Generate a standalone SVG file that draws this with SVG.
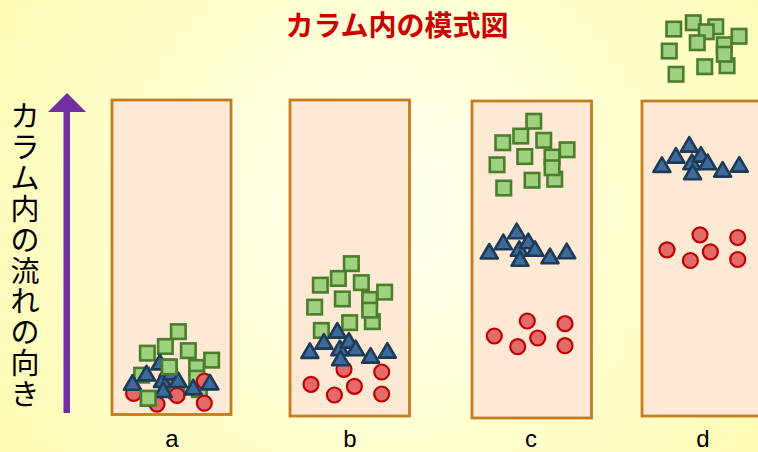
<svg xmlns="http://www.w3.org/2000/svg" xmlns:xlink="http://www.w3.org/1999/xlink" width="758" height="452" viewBox="0 0 758 452">
<style>
.col{fill:#fde9d4;stroke:#c47c22;stroke-width:2.8}
.sq{fill:#9fd27f;stroke:#4a7d2c;stroke-width:2.6}
.tr{fill:#3a6b9a;stroke:#1d3a56;stroke-width:2.6;stroke-linejoin:round}
.ci{fill:#e26a68;stroke:#c00000;stroke-width:2.2}
.lbl{font-family:"Liberation Sans",Arial,sans-serif;font-size:24px;fill:#000;text-anchor:middle}
.vt{font-family:"Noto Sans CJK JP","Noto Sans",sans-serif;font-size:29px;fill:#000;text-anchor:middle}
.title{font-family:"Noto Sans CJK JP","Noto Sans",sans-serif;font-size:28px;font-weight:bold;fill:#cc0000;text-anchor:middle}
</style>
<defs>
<radialGradient id="bg" cx="390" cy="210" r="430" gradientUnits="userSpaceOnUse">
<stop offset="0" stop-color="#fffff4"/>
<stop offset="0.55" stop-color="#ffffd0"/>
<stop offset="1" stop-color="#fffcb8"/>
</radialGradient>
<path id="t" d="M0,0 L8.5,14.5 L-8.5,14.5 Z"/>
<g id="sqC" class="sq">
<rect x="526.5" y="114" width="14.5" height="14.5"/>
<rect x="513.5" y="128.8" width="14.5" height="14.5"/>
<rect x="495.5" y="135.5" width="14.5" height="14.5"/>
<rect x="536.5" y="133" width="14.5" height="14.5"/>
<rect x="559.8" y="142.5" width="14.5" height="14.5"/>
<rect x="517.5" y="149.3" width="14.5" height="14.5"/>
<rect x="544.8" y="149.8" width="14.5" height="14.5"/>
<rect x="489.8" y="157.5" width="14.5" height="14.5"/>
<rect x="547.5" y="172" width="14.5" height="14.5"/>
<rect x="524.8" y="173" width="14.5" height="14.5"/>
<rect x="496.5" y="180.8" width="14.5" height="14.5"/>
<rect x="544.8" y="160.5" width="14.5" height="14.5"/>
</g>
<g id="trC" class="tr">
<use xlink:href="#t" transform="translate(516.7,223.7)"/>
<use xlink:href="#t" transform="translate(503.3,234.7)"/>
<use xlink:href="#t" transform="translate(489.3,244)"/>
<use xlink:href="#t" transform="translate(519.3,241.3)"/>
<use xlink:href="#t" transform="translate(528.3,233.7)"/>
<use xlink:href="#t" transform="translate(535,241.3)"/>
<use xlink:href="#t" transform="translate(520,251.3)"/>
<use xlink:href="#t" transform="translate(550,248.7)"/>
<use xlink:href="#t" transform="translate(566.7,243.7)"/>
</g>
<g id="ciC" class="ci">
<circle cx="527.3" cy="321" r="7.5"/>
<circle cx="565" cy="323.7" r="7.5"/>
<circle cx="494.3" cy="336" r="7.5"/>
<circle cx="537.7" cy="338" r="7.5"/>
<circle cx="517.7" cy="346.7" r="7.5"/>
<circle cx="565" cy="345.7" r="7.5"/>
</g>
</defs>
<rect x="0" y="0" width="758" height="452" fill="url(#bg)"/>
<g id="title"><text class="title" x="397" y="36">カラム内の模式図</text></g>
<g id="flow-label">
<text class="vt" x="25" y="127">カ</text>
<text class="vt" x="25" y="157.9">ラ</text>
<text class="vt" x="25" y="188.8">ム</text>
<text class="vt" x="25" y="219.7">内</text>
<text class="vt" x="25" y="250.6">の</text>
<text class="vt" x="25" y="281.5">流</text>
<text class="vt" x="25" y="312.4">れ</text>
<text class="vt" x="25" y="343.3">の</text>
<text class="vt" x="25" y="374.2">向</text>
<text class="vt" x="25" y="405.1">き</text>
</g>
<g id="connectors">
<rect x="63.5" y="110" width="6.5" height="303" fill="#7030a0"/>
<polygon points="67,93 86,112 48,112" fill="#7030a0"/>
</g>
<g id="column-a">
<rect class="col" x="112" y="100" width="119" height="314.5"/>
<use xlink:href="#sqC" transform="translate(-355.4,210.4)"/>
<use xlink:href="#ciC" transform="translate(-360.7,57.4)"/>
<use xlink:href="#trC" transform="translate(-356.8,131.2)"/>
<rect class="sq" x="162" y="359.7" width="14.5" height="14.5"/>
<rect class="sq" x="141" y="391" width="14.5" height="14.5"/>
<text class="lbl" x="172" y="447">a</text>
</g>
<g id="column-b">
<rect class="col" x="290" y="100" width="119.5" height="316"/>
<use xlink:href="#ciC" transform="translate(-183.3,48.3)"/>
<use xlink:href="#sqC" transform="translate(-182.4,142.4)"/>
<use xlink:href="#trC" transform="translate(-179.4,99.4)"/>
<text class="lbl" x="350" y="447">b</text>
</g>
<g id="column-c">
<rect class="col" x="472" y="101" width="119.5" height="317"/>
<use xlink:href="#sqC"/>
<use xlink:href="#trC"/>
<use xlink:href="#ciC"/>
<text class="lbl" x="531" y="447">c</text>
</g>
<g id="column-d">
<rect class="col" x="642" y="101" width="130" height="315"/>
<use xlink:href="#trC" transform="translate(172.6,-86.6)"/>
<use xlink:href="#ciC" transform="translate(172.7,-86.2)"/>
<g class="sq">
<rect x="686" y="15.5" width="14.5" height="14.5"/>
<rect x="666.5" y="21.8" width="14.5" height="14.5"/>
<rect x="708.5" y="19.5" width="14.5" height="14.5"/>
<rect x="699" y="24.5" width="14.5" height="14.5"/>
<rect x="731.8" y="29" width="14.5" height="14.5"/>
<rect x="690" y="35.5" width="14.5" height="14.5"/>
<rect x="717" y="37.5" width="14.5" height="14.5"/>
<rect x="662" y="43.8" width="14.5" height="14.5"/>
<rect x="719.8" y="58.5" width="14.5" height="14.5"/>
<rect x="717" y="47" width="14.5" height="14.5"/>
<rect x="697.5" y="59.5" width="14.5" height="14.5"/>
<rect x="668.8" y="67" width="14.5" height="14.5"/>
</g>
<text class="lbl" x="703" y="447">d</text>
</g>
</svg>
